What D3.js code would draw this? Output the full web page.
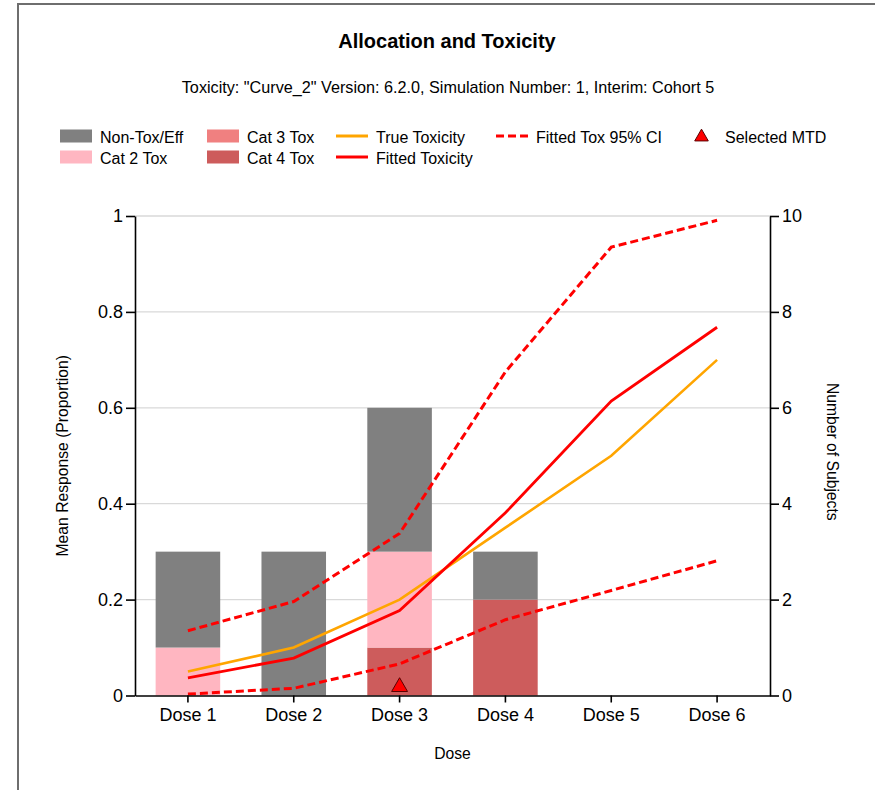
<!DOCTYPE html>
<html>
<head>
<meta charset="utf-8">
<script src="https://cdn.jsdelivr.net/npm/d3@7/dist/d3.min.js"></script>
<style>
  html, body { margin: 0; padding: 0; background: #fff; }
  svg { display: block; font-family: "Liberation Sans", Arial, sans-serif; }
</style>
</head>
<body>
<svg id="chart" width="875" height="790"></svg>
<script>
// Dose levels
const doses = ["Dose 1", "Dose 2", "Dose 3", "Dose 4", "Dose 5", "Dose 6"];

// Subjects allocated per dose, split by outcome category (right axis)
const nonToxEff = [2, 3, 3, 1, 0, 0];
const cat2Tox   = [1, 0, 2, 0, 0, 0];
const cat3Tox   = [0, 0, 0, 0, 0, 0];
const cat4Tox   = [0, 0, 1, 2, 0, 0];

// Toxicity curves (left axis, proportion)
const trueToxicity   = [0.05, 0.10, 0.20, 0.35, 0.50, 0.70];
const fittedToxicity = [0.037, 0.078, 0.177, 0.381, 0.614, 0.768];
const fittedCIUpper  = [0.135, 0.196, 0.338, 0.675, 0.935, 0.991];
const fittedCILower  = [0.003, 0.015, 0.066, 0.158, 0.219, 0.281];

// Selected MTD marker
const mtdDose  = ["Dose 3"];
const mtdValue = [0.02];

// Axis ticks
const leftTicks  = [0, 0.2, 0.4, 0.6, 0.8, 1];
const rightTicks = [0, 2, 4, 6, 8, 10];

const colors = {
  nonTox: "#808080",
  cat2: "#FFB6C1",
  cat3: "#F08080",
  cat4: "#CD5C5C",
  trueTox: "#FFA500",
  fitted: "#FF0000"
};

const svg = d3.select("#chart");

// Outer frame of the chart control
svg.append("rect")
  .attr("x", 18).attr("y", 4)
  .attr("width", 900).attr("height", 900)
  .attr("fill", "none").attr("stroke", "#6e6e6e").attr("stroke-width", 2);

const plot = { left: 135, right: 770, top: 216, bottom: 695.5 };

const x = d3.scaleBand()
  .domain(doses)
  .range([plot.left, plot.right])
  .paddingInner(0.39)
  .paddingOuter(0.195);
const xc = d => x(d) + x.bandwidth() / 2;

const yProp  = d3.scaleLinear().domain([0, 1]).range([plot.bottom, plot.top]);
const yCount = d3.scaleLinear().domain([0, 10]).range([plot.bottom, plot.top]);

// Titles
svg.append("text")
  .attr("x", 447).attr("y", 48)
  .attr("text-anchor", "middle")
  .attr("font-size", 20).attr("font-weight", "bold")
  .text("Allocation and Toxicity");

svg.append("text")
  .attr("x", 448).attr("y", 93)
  .attr("text-anchor", "middle")
  .attr("font-size", 16.2)
  .text("Toxicity: \"Curve_2\" Version: 6.2.0, Simulation Number: 1, Interim: Cohort 5");

// Gridlines
svg.append("g")
  .selectAll("line")
  .data(leftTicks.filter(t => t > 0))
  .join("line")
  .attr("x1", plot.left).attr("x2", plot.right)
  .attr("y1", d => yProp(d)).attr("y2", d => yProp(d))
  .attr("stroke", "#d9d9d9").attr("stroke-width", 1.3);

// Stacked bars
const rows = doses.map((d, i) => ({
  dose: d, cat4: cat4Tox[i], cat3: cat3Tox[i], cat2: cat2Tox[i], nonTox: nonToxEff[i]
}));
const stack = d3.stack().keys(["cat4", "cat3", "cat2", "nonTox"]);
const series = stack(rows);

svg.append("g")
  .selectAll("g")
  .data(series)
  .join("g")
  .attr("fill", s => colors[s.key])
  .selectAll("rect")
  .data(s => s.filter(p => p[1] > p[0]))
  .join("rect")
  .attr("x", p => x(p.data.dose))
  .attr("width", x.bandwidth())
  .attr("y", p => yCount(p[1]))
  .attr("height", p => yCount(p[0]) - yCount(p[1]));

// Lines
const line = d3.line()
  .x((v, i) => xc(doses[i]))
  .y(v => yProp(v));

svg.append("path")
  .attr("d", line(trueToxicity))
  .attr("fill", "none").attr("stroke", colors.trueTox).attr("stroke-width", 2.6);

svg.append("path")
  .attr("d", line(fittedToxicity))
  .attr("fill", "none").attr("stroke", colors.fitted).attr("stroke-width", 2.8);

[fittedCIUpper, fittedCILower].forEach(arr => {
  svg.append("path")
    .attr("d", line(arr))
    .attr("fill", "none").attr("stroke", colors.fitted)
    .attr("stroke-width", 3).attr("stroke-dasharray", "8,4");
});

// MTD marker
const tri = d3.symbol().type(d3.symbolTriangle).size(110);
svg.append("g")
  .selectAll("path")
  .data(mtdDose)
  .join("path")
  .attr("d", tri)
  .attr("transform", (d, i) => `translate(${xc(d)},${yProp(mtdValue[i]) + 1})`)
  .attr("fill", "#FF0000").attr("stroke", "#5a0000").attr("stroke-width", 1);

// Axes
const axisFont = g => g.selectAll("text").attr("font-size", 18).attr("fill", "#000")
  .attr("font-family", "'Liberation Sans', Arial, sans-serif");

svg.append("g")
  .attr("transform", `translate(${plot.left},0)`)
  .call(d3.axisLeft(yProp).tickValues(leftTicks).tickFormat(d3.format("")).tickSize(9).tickSizeOuter(0).tickPadding(3))
  .call(axisFont)
  .call(g => g.selectAll("path,line").attr("stroke", "#000").attr("stroke-width", 1.6));

svg.append("g")
  .attr("transform", `translate(${plot.right},0)`)
  .call(d3.axisRight(yCount).tickValues(rightTicks).tickSize(9).tickSizeOuter(0).tickPadding(3))
  .call(axisFont)
  .call(g => g.selectAll("path,line").attr("stroke", "#000").attr("stroke-width", 1.6));

svg.append("g")
  .attr("transform", `translate(0,${plot.bottom})`)
  .call(d3.axisBottom(x).tickSize(7).tickSizeOuter(0).tickPadding(6))
  .call(axisFont)
  .call(g => g.selectAll("path,line").attr("stroke", "#000").attr("stroke-width", 1.6));

// Axis titles
svg.append("text")
  .attr("transform", `translate(68,${(plot.top + plot.bottom) / 2}) rotate(-90)`)
  .attr("text-anchor", "middle").attr("font-size", 15.7)
  .text("Mean Response (Proportion)");

svg.append("text")
  .attr("transform", `translate(827,${(plot.top + plot.bottom) / 2 - 4}) rotate(90)`)
  .attr("text-anchor", "middle").attr("font-size", 15.7)
  .text("Number of Subjects");

svg.append("text")
  .attr("x", (plot.left + plot.right) / 2).attr("y", 759)
  .attr("text-anchor", "middle").attr("font-size", 15.7)
  .text("Dose");

// Legend
const legendItems = [
  { label: "Non-Tox/Eff", kind: "box", color: colors.nonTox, x: 60, y: 136 },
  { label: "Cat 2 Tox", kind: "box", color: colors.cat2, x: 60, y: 157 },
  { label: "Cat 3 Tox", kind: "box", color: colors.cat3, x: 207, y: 136 },
  { label: "Cat 4 Tox", kind: "box", color: colors.cat4, x: 207, y: 157 },
  { label: "True Toxicity", kind: "line", color: colors.trueTox, x: 336, y: 136 },
  { label: "Fitted Toxicity", kind: "line", color: colors.fitted, x: 336, y: 157 },
  { label: "Fitted Tox 95% CI", kind: "dash", color: colors.fitted, x: 496, y: 136 },
  { label: "Selected MTD", kind: "tri", color: "#FF0000", x: 694, y: 136 }
];

const lg = svg.append("g").attr("font-size", 16);
legendItems.forEach(it => {
  const g = lg.append("g").attr("transform", `translate(${it.x},${it.y})`);
  let tx;
  if (it.kind === "box") {
    g.append("rect").attr("x", 0).attr("y", -6.5).attr("width", 32).attr("height", 13).attr("fill", it.color);
    tx = 40;
  } else if (it.kind === "line" || it.kind === "dash") {
    g.append("line").attr("x1", 0).attr("x2", 32).attr("y1", 0).attr("y2", 0)
      .attr("stroke", it.color).attr("stroke-width", 3)
      .attr("stroke-dasharray", it.kind === "dash" ? "8,4" : null);
    tx = 40;
  } else {
    g.append("path").attr("d", d3.symbol().type(d3.symbolTriangle).size(80))
      .attr("transform", "translate(7.5,1)")
      .attr("fill", it.color).attr("stroke", "#5a0000").attr("stroke-width", 1);
    tx = 31;
  }
  g.append("text").attr("x", tx).attr("y", 6.5).text(it.label);
});
</script>
</body>
</html>
